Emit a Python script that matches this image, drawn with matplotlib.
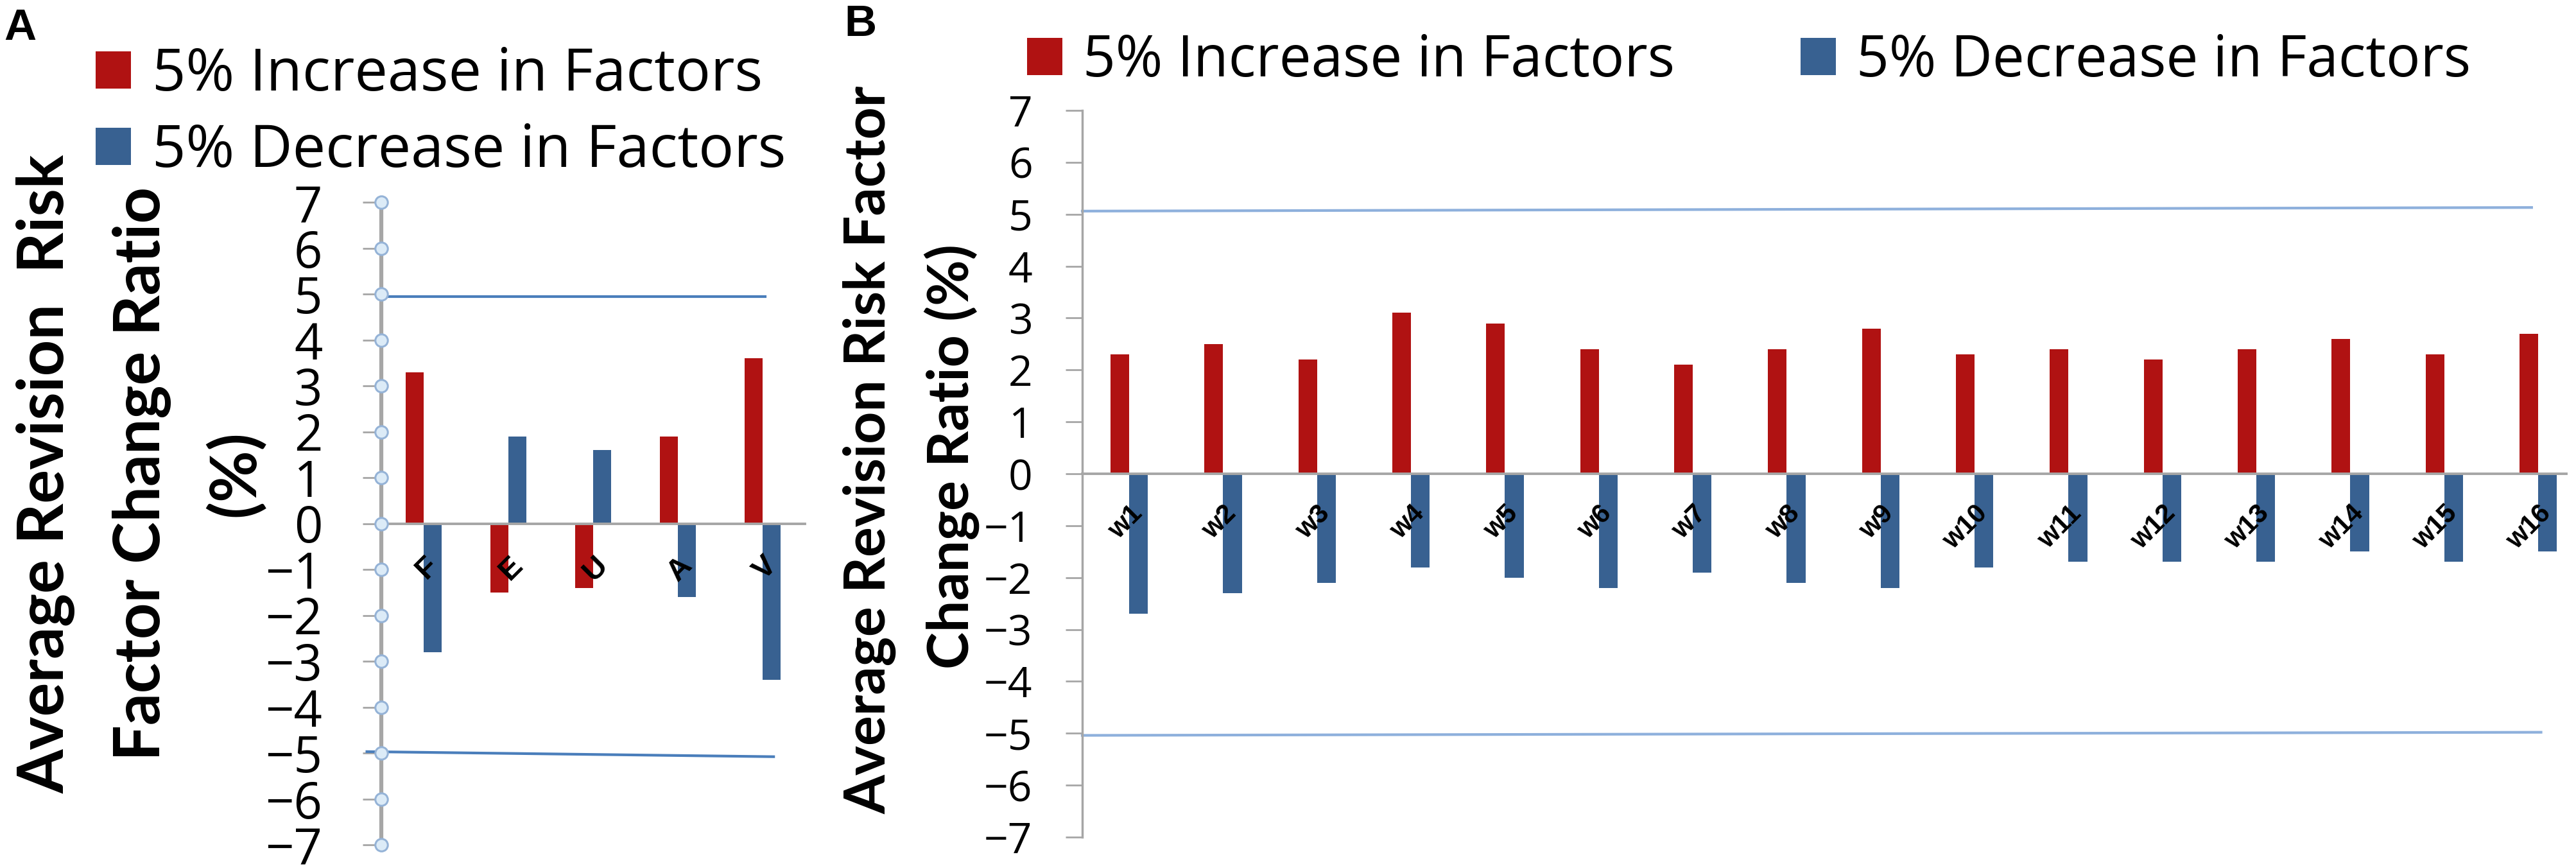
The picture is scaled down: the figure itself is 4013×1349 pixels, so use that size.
import numpy as np
import matplotlib
matplotlib.use('Agg')
import matplotlib.pyplot as plt

# ---- data ---------------------------------------------------------------
A_FACTORS = ['F', 'E', 'U', 'A', 'V']
A_INCREASE = [3.3, -1.5, -1.4, 1.9, 3.6]
A_DECREASE = [-2.8, 1.9, 1.6, -1.6, -3.4]

B_WEIGHTS = ['w%d' % i for i in range(1, 17)]
B_INCREASE = [2.3, 2.5, 2.2, 3.1, 2.9, 2.4, 2.1, 2.4,
              2.8, 2.3, 2.4, 2.2, 2.4, 2.6, 2.3, 2.7]
B_DECREASE = [-2.7, -2.3, -2.1, -1.8, -2.0, -2.2, -1.9, -2.1,
              -2.2, -1.8, -1.7, -1.7, -1.7, -1.5, -1.7, -1.5]

Y_TICKS = list(range(-7, 8))

# +/-5 % reference lines (hand drawn in the original, slightly tilted)
A_UPPER_X, A_UPPER_Y = [-0.5, 4.03], [4.94, 4.94]
A_LOWER_X, A_LOWER_Y = [-0.67, 4.13], [-4.97, -5.08]
B_UPPER_X, B_UPPER_Y = [-0.5, 14.93], [5.06, 5.13]
B_LOWER_X, B_LOWER_Y = [-0.5, 15.03], [-5.04, -4.98]

LEGEND_LABELS = ['5% Increase in Factors', '5% Decrease in Factors']

RED = '#B01212'
BLUE = '#386191'
GREY = '#A6A6A6'

W, H, DPI = 4013, 1349, 100
fig = plt.figure(figsize=(W / DPI, H / DPI), dpi=DPI)


def px_axes(left, right, top, bottom):
    return fig.add_axes([left / W, 1 - bottom / H, (right - left) / W, (bottom - top) / H])


def style_axes(ax, xlim, ticksize, tickpad, ticklen, spine_lw, catsize, catpad):
    ax.set_xlim(*xlim)
    ax.set_ylim(-7, 7)
    ax.set_yticks(Y_TICKS)
    for s in ['top', 'right']:
        ax.spines[s].set_visible(False)
    ax.spines['left'].set_color(GREY)
    ax.spines['left'].set_linewidth(spine_lw)
    ax.spines['bottom'].set_position(('data', 0))
    ax.spines['bottom'].set_color(GREY)
    ax.spines['bottom'].set_linewidth(2.8)
    ax.tick_params(axis='y', length=ticklen, width=2, color=GREY, pad=tickpad)
    ax.tick_params(axis='x', length=0, pad=catpad)
    for t in ax.get_yticklabels():
        t.set_fontfamily('Open Sans')
        t.set_fontsize(ticksize)
    for t in ax.get_xticklabels():
        t.set_fontfamily('Liberation Sans')
        t.set_fontweight('bold')
        t.set_fontsize(catsize)
        t.set_rotation(45)
        t.set_ha('right')
        t.set_va('top')
        t.set_rotation_mode('anchor')
    ax.patch.set_alpha(0)


# ---- panel A ------------------------------------------------------------
axA = px_axes(594, 1254, 315, 1316)
xa = np.arange(len(A_FACTORS))
wa = 0.21
axA.bar(xa - wa / 2, A_INCREASE, wa, color=RED, label=LEGEND_LABELS[0])
axA.bar(xa + wa / 2, A_DECREASE, wa, color=BLUE, label=LEGEND_LABELS[1])
axA.plot(A_UPPER_X, A_UPPER_Y, color='#4A7EBB', lw=3, clip_on=False)
axA.plot(A_LOWER_X, A_LOWER_Y, color='#4A7EBB', lw=3, clip_on=False)
axA.plot(np.full(len(Y_TICKS), -0.5), Y_TICKS, 'o', ms=14, mfc='#DCEBF7',
         mec='#95B3D7', mew=2.2, clip_on=False, zorder=5)
axA.set_xticks(xa)
axA.set_xticklabels(A_FACTORS)
style_axes(axA, (-0.5, 4.5), 56, 45, 21, 4.5, 34, 31)

legA = fig.legend(*axA.get_legend_handles_labels(), loc='center left',
                  bbox_to_anchor=(149 / W, 1 - 177 / H), frameon=False,
                  prop={'family': 'Open Sans', 'size': 66},
                  handlelength=0.6, handleheight=0.6, handletextpad=0.36,
                  labelspacing=0.3, borderpad=0, borderaxespad=0)

fig.text(6 / W, 1 - 12 / H, 'A', fontsize=50, fontweight='bold',
         family='Liberation Sans', ha='left', va='top')

for xc, line in [(72, 'Average Revision  Risk'), (221, 'Factor Change Ratio'), (367, '(%)')]:
    fig.text(xc / W, 1 - 738 / H, line, rotation=90, ha='center', va='center',
             fontsize=71, fontweight='bold', family='Lato')

# ---- panel B ------------------------------------------------------------
axB = px_axes(1686, 3998, 172, 1304)
xb = np.arange(len(B_WEIGHTS))
wb = 0.2
axB.bar(xb - wb / 2, B_INCREASE, wb, color=RED, label=LEGEND_LABELS[0])
axB.bar(xb + wb / 2, B_DECREASE, wb, color=BLUE, label=LEGEND_LABELS[1])
axB.plot(B_UPPER_X, B_UPPER_Y, color='#8EB0DC', lw=3, clip_on=False)
axB.plot(B_LOWER_X, B_LOWER_Y, color='#8EB0DC', lw=3, clip_on=False)
axB.set_xticks(xb)
axB.set_xticklabels(B_WEIGHTS)
style_axes(axB, (-0.5, 15.3), 47.5, 37, 18.7, 2.5, 30, 30)

legB = fig.legend(*axB.get_legend_handles_labels(), loc='center left',
                  bbox_to_anchor=(1600 / W, 1 - 96 / H), frameon=False, ncol=2,
                  prop={'family': 'Open Sans', 'size': 64},
                  handlelength=0.62, handleheight=0.62, handletextpad=0.36,
                  columnspacing=2.2, borderpad=0, borderaxespad=0)

fig.text(1315 / W, 1 - 6 / H, 'B', fontsize=50, fontweight='bold',
         family='Liberation Sans', ha='left', va='top')

for xc, yc, line in [(1355, 701, 'Average Revision Risk Factor'), (1483, 711, 'Change Ratio (%)')]:
    fig.text(xc / W, 1 - yc / H, line, rotation=90, ha='center', va='center',
             fontsize=63, fontweight='bold', family='Lato')

fig.savefig('out.png', dpi=DPI)
